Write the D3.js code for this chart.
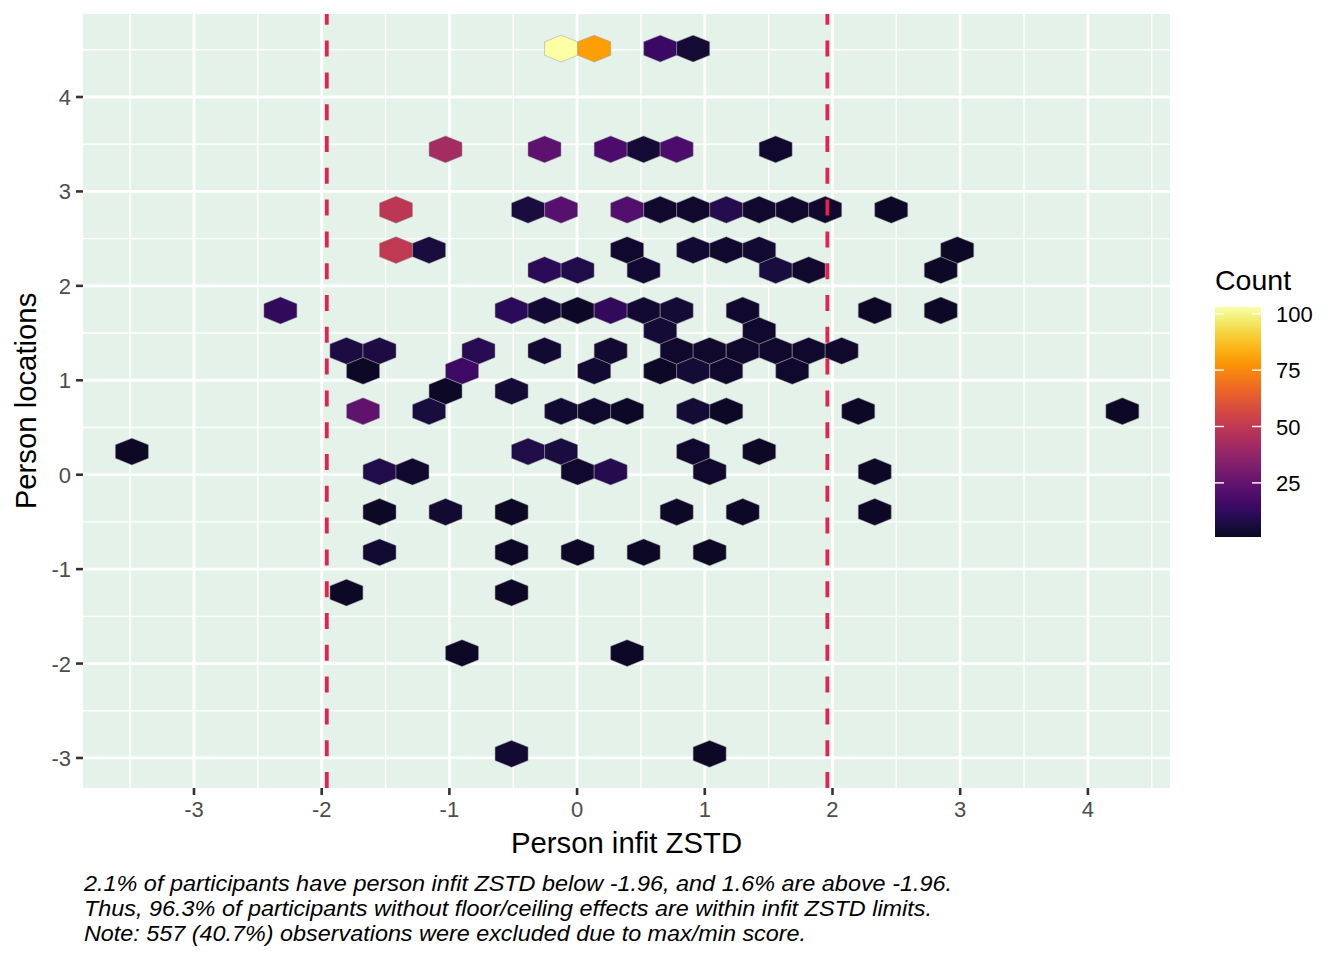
<!DOCTYPE html>
<html>
<head>
<meta charset="utf-8">
<script src="https://cdn.jsdelivr.net/npm/d3@7"></script>
<style>
  html, body { margin: 0; padding: 0; background: #ffffff; }
  svg { display: block; font-family: "Liberation Sans", Arial, Helvetica, sans-serif; }
</style>
</head>
<body>
<svg id="chart" width="1344" height="960"></svg>
<script>
// ---- data (hexbin centres in data units, counts) ----
const hexX = [
  -0.125, 0.134, 0.651, 0.909,
  -1.030, -0.255, 0.263, 0.521, 0.780, 1.555,
  -1.418, -0.384, -0.125, 0.392, 0.651, 0.909, 1.168, 1.426, 1.685, 1.943, 2.460,
  -1.418, -1.159, 0.392, 0.909, 1.168, 1.426, 2.977,
  -0.255, 0.004, 0.521, 1.555, 1.814, 2.848,
  -2.323, -0.513, -0.255, 0.004, 0.263, 0.521, 0.780, 1.297, 2.331, 2.848,
  0.651, 1.426,
  -1.806, -1.547, -0.772, -0.255, 0.263, 0.780, 1.038, 1.297, 1.555, 1.814, 2.072,
  -1.676, -0.901, 0.134, 0.651, 0.909, 1.168, 1.685,
  -1.030, -0.513,
  -1.676, -1.159, -0.125, 0.134, 0.392, 0.909, 1.168, 2.202, 4.270,
  -3.486, -0.384, -0.125, 0.909, 1.426,
  -1.547, -1.289, 0.004, 0.263, 1.038, 2.331,
  -1.547, -1.030, -0.513, 0.780, 1.297, 2.331,
  -1.547, -0.513, 0.004, 0.521, 1.038,
  -1.806, -0.513,
  -0.901, 0.392,
  -0.513, 1.038
];
const hexY = [
  4.513, 4.513, 4.513, 4.513,
  3.446, 3.446, 3.446, 3.446, 3.446, 3.446,
  2.806, 2.806, 2.806, 2.806, 2.806, 2.806, 2.806, 2.806, 2.806, 2.806, 2.806,
  2.379, 2.379, 2.379, 2.379, 2.379, 2.379, 2.379,
  2.166, 2.166, 2.166, 2.166, 2.166, 2.166,
  1.739, 1.739, 1.739, 1.739, 1.739, 1.739, 1.739, 1.739, 1.739, 1.739,
  1.525, 1.525,
  1.312, 1.312, 1.312, 1.312, 1.312, 1.312, 1.312, 1.312, 1.312, 1.312, 1.312,
  1.099, 1.099, 1.099, 1.099, 1.099, 1.099, 1.099,
  0.885, 0.885,
  0.672, 0.672, 0.672, 0.672, 0.672, 0.672, 0.672, 0.672, 0.672,
  0.245, 0.245, 0.245, 0.245, 0.245,
  0.032, 0.032, 0.032, 0.032, 0.032, 0.032,
  -0.395, -0.395, -0.395, -0.395, -0.395, -0.395,
  -0.822, -0.822, -0.822, -0.822, -0.822,
  -1.249, -1.249,
  -1.889, -1.889,
  -2.956, -2.956
];
const hexCount = [
  103, 80, 14, 5,
  42, 23, 19, 5, 19, 3,
  49, 6, 22, 20, 3, 3, 9, 3, 3, 3, 2,
  50, 6, 3, 4, 3, 4, 2,
  11, 8, 4, 6, 3, 2,
  12, 11, 4, 2, 12, 4, 5, 3, 2, 2,
  5, 3,
  7, 7, 10, 4, 4, 3, 3, 3, 3, 3, 3,
  2, 15, 4, 2, 5, 3, 3,
  2, 5,
  24, 6, 4, 3, 2, 5, 2, 2, 2,
  2, 8, 6, 3, 2,
  8, 3, 3, 9, 3, 2,
  2, 4, 2, 2, 2, 2,
  4, 2, 2, 2, 2,
  2, 2,
  2, 2,
  4, 2
];
const binWidthX = 0.2585;     // hexagon width (data units)
const rowSpacingY = 0.2134;   // vertical distance between hex rows (data units)

const xTicks = [-3, -2, -1, 0, 1, 2, 3, 4];
const yTicks = [-3, -2, -1, 0, 1, 2, 3, 4];
const xMinor = [-3.5, -2.5, -1.5, -0.5, 0.5, 1.5, 2.5, 3.5, 4.5];
const yMinor = [-2.5, -1.5, -0.5, 0.5, 1.5, 2.5, 3.5, 4.5];
const vLines = [-1.96, 1.96];
const legendTicks = [25, 50, 75, 100];
const countRange = [1, 103];
const xTitle = "Person infit ZSTD";
const yTitle = "Person locations";
const legendTitle = "Count";
const captionLines = [
  "2.1% of participants have person infit ZSTD below -1.96, and 1.6% are above -1.96.",
  "Thus, 96.3% of participants without floor/ceiling effects are within infit ZSTD limits.",
  "Note: 557 (40.7%) observations were excluded due to max/min score."
];
const captionWidths = [868, 848, 722];

// ---- layout ----
const P = { left: 83, right: 1170, top: 14, bottom: 788 };
const svg = d3.select("#chart");

const x = d3.scaleLinear().domain([-3.869, 4.643]).range([P.left, P.right]);
const y = d3.scaleLinear().domain([-3.318, 4.879]).range([P.bottom, P.top]);
const tScale = d3.scaleLinear().domain(countRange).range([0.06, 1]);
const color = c => d3.interpolateInferno(tScale(c));

// panel background
svg.append("rect")
  .attr("x", P.left).attr("y", P.top)
  .attr("width", P.right - P.left).attr("height", P.bottom - P.top)
  .attr("fill", "#e5f2ea");

const grid = svg.append("g");
grid.selectAll(".xminor").data(xMinor).enter().append("line")
  .attr("x1", d => x(d)).attr("x2", d => x(d))
  .attr("y1", P.top).attr("y2", P.bottom)
  .attr("stroke", "#ffffff").attr("stroke-width", 1.4);
grid.selectAll(".yminor").data(yMinor).enter().append("line")
  .attr("y1", d => y(d)).attr("y2", d => y(d))
  .attr("x1", P.left).attr("x2", P.right)
  .attr("stroke", "#ffffff").attr("stroke-width", 1.4);
grid.selectAll(".xmajor").data(xTicks).enter().append("line")
  .attr("x1", d => x(d)).attr("x2", d => x(d))
  .attr("y1", P.top).attr("y2", P.bottom)
  .attr("stroke", "#ffffff").attr("stroke-width", 2.8);
grid.selectAll(".ymajor").data(yTicks).enter().append("line")
  .attr("y1", d => y(d)).attr("y2", d => y(d))
  .attr("x1", P.left).attr("x2", P.right)
  .attr("stroke", "#ffffff").attr("stroke-width", 2.8);

// hexagons
const hexData = hexX.map((d, i) => ({ x: d, y: hexY[i], c: hexCount[i] }));
const hw = binWidthX / 2;
const hh = rowSpacingY * 2 / 3;
function hexPath(d) {
  const pts = [
    [d.x + hw, d.y + hh / 2],
    [d.x, d.y + hh],
    [d.x - hw, d.y + hh / 2],
    [d.x - hw, d.y - hh / 2],
    [d.x, d.y - hh],
    [d.x + hw, d.y - hh / 2]
  ];
  return "M" + pts.map(p => x(p[0]).toFixed(2) + "," + y(p[1]).toFixed(2)).join("L") + "Z";
}
svg.append("g").selectAll("path").data(hexData).enter().append("path")
  .attr("d", hexPath)
  .attr("fill", d => color(d.c))
  .attr("stroke", "#9c9c9c")
  .attr("stroke-width", 0.5);

// dashed vertical lines
svg.append("g").selectAll("line").data(vLines).enter().append("line")
  .attr("x1", d => x(d)).attr("x2", d => x(d))
  .attr("y1", P.bottom).attr("y2", P.top)
  .attr("stroke", "#e3234f").attr("stroke-width", 3.8)
  .attr("stroke-dasharray", "16,15.8");

// axes
const tickColor = "#333333";
const labColor = "#4d4d4d";
const xAxis = svg.append("g");
xAxis.selectAll("line").data(xTicks).enter().append("line")
  .attr("x1", d => x(d)).attr("x2", d => x(d))
  .attr("y1", P.bottom).attr("y2", P.bottom + 7)
  .attr("stroke", tickColor).attr("stroke-width", 2.6);
xAxis.selectAll("text").data(xTicks).enter().append("text")
  .attr("x", d => x(d)).attr("y", P.bottom + 29)
  .attr("text-anchor", "middle").attr("font-size", 22).attr("fill", labColor)
  .text(d => d);

const yAxis = svg.append("g");
yAxis.selectAll("line").data(yTicks).enter().append("line")
  .attr("y1", d => y(d)).attr("y2", d => y(d))
  .attr("x1", P.left - 7).attr("x2", P.left)
  .attr("stroke", tickColor).attr("stroke-width", 2.6);
yAxis.selectAll("text").data(yTicks).enter().append("text")
  .attr("x", P.left - 12).attr("y", d => y(d) + 8)
  .attr("text-anchor", "end").attr("font-size", 22).attr("fill", labColor)
  .text(d => d);

// axis titles
svg.append("text")
  .attr("x", (P.left + P.right) / 2).attr("y", 853)
  .attr("text-anchor", "middle").attr("font-size", 29.3).attr("fill", "#000")
  .text(xTitle);
svg.append("text")
  .attr("transform", `translate(36,${(P.top + P.bottom) / 2}) rotate(-90)`)
  .attr("text-anchor", "middle").attr("font-size", 29.3).attr("fill", "#000")
  .text(yTitle);

// legend
const L = { x: 1215, w: 46, top: 307, bottom: 537 };
const ly = d3.scaleLinear().domain(countRange).range([L.bottom, L.top]);
const defs = svg.append("defs");
const grad = defs.append("linearGradient").attr("id", "lg")
  .attr("x1", 0).attr("y1", 1).attr("x2", 0).attr("y2", 0);
d3.range(0, 1.0001, 0.05).forEach(f => {
  const c = countRange[0] + f * (countRange[1] - countRange[0]);
  grad.append("stop").attr("offset", f).attr("stop-color", color(c));
});
svg.append("rect")
  .attr("x", L.x).attr("y", L.top).attr("width", L.w).attr("height", L.bottom - L.top)
  .attr("fill", "url(#lg)");
const lg = svg.append("g");
legendTicks.forEach(t => {
  lg.append("line").attr("x1", L.x).attr("x2", L.x + 9)
    .attr("y1", ly(t)).attr("y2", ly(t))
    .attr("stroke", "#ffffff").attr("stroke-width", 1.4);
  lg.append("line").attr("x1", L.x + L.w - 9).attr("x2", L.x + L.w)
    .attr("y1", ly(t)).attr("y2", ly(t))
    .attr("stroke", "#ffffff").attr("stroke-width", 1.4);
  lg.append("text").attr("x", 1276).attr("y", ly(t) + 8)
    .attr("font-size", 22).attr("fill", "#000").text(t);
});
svg.append("text").attr("x", 1215).attr("y", 290)
  .attr("font-size", 28.5).attr("fill", "#000").text(legendTitle);

// caption
svg.append("g").selectAll("text").data(captionLines).enter().append("text")
  .attr("x", 84).attr("y", (d, i) => 891 + i * 25)
  .attr("font-size", 22).attr("font-style", "italic").attr("fill", "#000")
  .attr("textLength", (d, i) => captionWidths[i])
  .attr("lengthAdjust", "spacingAndGlyphs")
  .text(d => d);
</script>
</body>
</html>
